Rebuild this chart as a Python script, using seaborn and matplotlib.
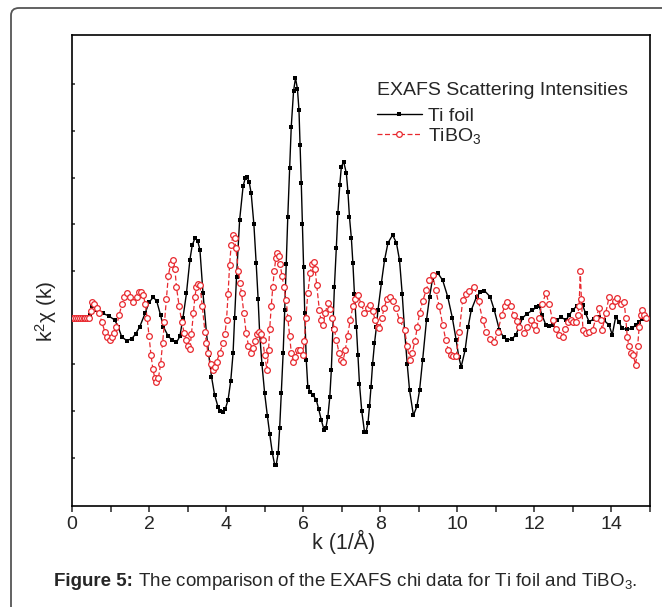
"""
EXAFS chi(k) - porownanie Ti foil i TiBO3
"""

import matplotlib
matplotlib.use('Agg')
import matplotlib.pyplot as plt
import seaborn as sns
import pandas as pd
from matplotlib.patches import FancyBboxPatch

# k (1/A) i k^2 chi(k) (jednostki = odstep tickow osi Y)
ti_k = [0.0, 0.1, 0.2, 0.3, 0.4, 0.47, 0.53, 0.65, 0.81, 0.95, 1.11, 1.20, 1.29, 1.42, 1.55,
        1.65, 1.76, 1.90, 2.00, 2.11, 2.20, 2.30, 2.37, 2.50, 2.60, 2.71, 2.80, 2.88, 2.97,
        3.06, 3.12, 3.19, 3.26, 3.32, 3.40, 3.49, 3.55, 3.62, 3.70, 3.79, 3.85, 3.92, 3.98,
        4.05, 4.12, 4.18, 4.22, 4.27, 4.35, 4.44, 4.50, 4.55, 4.60, 4.65, 4.72, 4.78, 4.83,
        4.87, 4.93, 5.00, 5.07, 5.13, 5.20, 5.26, 5.30, 5.35, 5.39, 5.43, 5.48, 5.52, 5.56,
        5.60, 5.65, 5.69, 5.75, 5.80, 5.85, 5.89, 5.92, 5.95, 5.98, 6.01, 6.04, 6.08, 6.12,
        6.18, 6.25, 6.34, 6.40, 6.47, 6.54, 6.59, 6.64, 6.69, 6.73, 6.77, 6.81, 6.86, 6.90,
        6.95, 6.99, 7.05, 7.12, 7.16, 7.20, 7.25, 7.29, 7.33, 7.38, 7.42, 7.46, 7.52, 7.59,
        7.63, 7.68, 7.72, 7.76, 7.80, 7.85, 7.90, 7.94, 8.03, 8.11, 8.20, 8.32, 8.42, 8.50,
        8.57, 8.63, 8.70, 8.76, 8.86, 8.95, 9.02, 9.10, 9.20, 9.28, 9.35, 9.49, 9.62, 9.75,
        9.87, 9.97, 10.04, 10.10, 10.20, 10.28, 10.36, 10.50, 10.60, 10.70, 10.85, 10.96,
        11.09, 11.20, 11.30, 11.42, 11.52, 11.60, 11.69, 11.80, 11.95, 12.05, 12.12, 12.20,
        12.30, 12.38, 12.47, 12.58, 12.69, 12.82, 12.90, 12.99, 13.10, 13.25, 13.33, 13.42,
        13.55, 13.68, 13.80, 13.94, 14.02, 14.11, 14.20, 14.28, 14.40, 14.54, 14.63, 14.72,
        14.80, 14.89]
ti_chi = [0.0, 0.0, 0.0, 0.0, 0.0, 0.05, 0.24, 0.17, 0.09, 0.04, -0.05, -0.20, -0.41, -0.49, -0.45,
          -0.35, -0.19, 0.10, 0.33, 0.44, 0.35, 0.05, -0.19, -0.40, -0.48, -0.53, -0.40, 0.00, 0.52,
          1.24, 1.55, 1.70, 1.65, 1.45, 0.52, -0.33, -0.80, -1.26, -1.65, -1.91, -2.00, -2.01, -1.95,
          -1.76, -1.35, -0.76, 0.00, 0.88, 2.09, 2.81, 3.00, 3.01, 2.90, 2.66, 2.00, 1.16, 0.40,
          -0.33, -1.00, -1.62, -2.10, -2.48, -2.90, -3.15, -3.15, -2.90, -2.35, -1.62, -0.75, 0.16, 1.15,
          2.16, 3.20, 4.09, 4.85, 5.13, 4.90, 4.45, 3.70, 2.88, 2.00, 1.09, 0.10, -0.91, -1.48,
          -1.58, -1.65, -1.76, -1.95, -2.19, -2.40, -2.35, -2.12, -1.70, -1.12, -0.25, 0.66, 1.50, 2.24,
          2.85, 3.23, 3.34, 3.09, 2.70, 2.16, 1.70, 1.16, 0.50, -0.19, -0.80, -1.41, -2.00, -2.44,
          -2.45, -2.26, -1.90, -1.48, -1.00, -0.55, -0.20, 0.16, 0.75, 1.23, 1.60, 1.77, 1.60, 1.23,
          0.50, -0.26, -1.00, -1.55, -2.09, -1.90, -1.55, -0.90, -0.05, 0.45, 0.80, 0.96, 0.80, 0.45,
          0.00, -0.48, -0.85, -1.05, -0.70, -0.20, 0.16, 0.45, 0.55, 0.58, 0.45, 0.16,
          -0.26, -0.42, -0.48, -0.45, -0.37, -0.20, -0.01, 0.08, 0.16, 0.22, 0.25, 0.05,
          -0.16, -0.18, -0.16, -0.05, 0.01, -0.05, 0.05, 0.16, 0.25, 0.27, 0.09, -0.09,
          -0.02, 0.02, -0.05, -0.16, -0.37, 0.02, -0.10, -0.23, -0.25, -0.23, -0.15, -0.09,
          -0.02, 0.01]

tibo_k = [0.0, 0.05, 0.1, 0.15, 0.2, 0.25, 0.3, 0.35, 0.4, 0.45, 0.49, 0.53, 0.58, 0.64, 0.70,
          0.78, 0.85, 0.91, 0.98, 1.05, 1.10, 1.15, 1.22, 1.30, 1.36, 1.42, 1.50, 1.59, 1.68,
          1.75, 1.80, 1.85, 1.90, 1.95, 2.00, 2.05, 2.10, 2.15, 2.19, 2.24, 2.30, 2.35, 2.40,
          2.45, 2.50, 2.56, 2.62, 2.67, 2.71, 2.78, 2.85, 2.91, 2.97, 3.02, 3.06, 3.10, 3.15,
          3.19, 3.23, 3.28, 3.32, 3.38, 3.45, 3.49, 3.53, 3.60, 3.66, 3.71, 3.75, 3.83, 3.92,
          3.97, 4.01, 4.05, 4.09, 4.13, 4.18, 4.22, 4.25, 4.32, 4.36, 4.40, 4.46, 4.52, 4.58,
          4.65, 4.70, 4.75, 4.80, 4.86, 4.90, 4.95, 5.00, 5.06, 5.10, 5.13, 5.17, 5.21, 5.25,
          5.29, 5.32, 5.36, 5.40, 5.45, 5.50, 5.56, 5.60, 5.65, 5.69, 5.73, 5.79, 5.86, 5.92,
          5.99, 6.03, 6.07, 6.12, 6.18, 6.23, 6.27, 6.31, 6.35, 6.42, 6.46, 6.51, 6.57, 6.64,
          6.70, 6.75, 6.81, 6.86, 6.93, 6.98, 7.03, 7.09, 7.15, 7.22, 7.29, 7.35, 7.42, 7.50,
          7.59, 7.67, 7.74, 7.80, 7.87, 7.94, 7.98, 8.04, 8.10, 8.17, 8.24, 8.32, 8.40, 8.50,
          8.63, 8.70, 8.76, 8.83, 8.90, 8.96, 9.02, 9.10, 9.19, 9.27, 9.36, 9.44, 9.53, 9.62,
          9.70, 9.77, 9.84, 9.90, 9.97, 10.05, 10.14, 10.22, 10.30, 10.44, 10.55, 10.66, 10.75,
          10.85, 10.96, 11.05, 11.15, 11.23, 11.30, 11.38, 11.47, 11.54, 11.61, 11.74, 11.82,
          11.91, 11.98, 12.04, 12.12, 12.20, 12.30, 12.38, 12.47, 12.55, 12.65, 12.73, 12.80,
          12.87, 12.94, 13.00, 13.07, 13.12, 13.16, 13.19, 13.22, 13.26, 13.33, 13.42, 13.51,
          13.60, 13.68, 13.72, 13.76, 13.85, 13.94, 14.02, 14.08, 14.15, 14.24, 14.33, 14.37,
          14.41, 14.45, 14.50, 14.56, 14.63, 14.68, 14.72, 14.76, 14.80, 14.85, 14.89]
tibo_chi = [0.0, 0.0, 0.0, 0.0, 0.0, 0.0, 0.0, 0.0, 0.0, 0.0, 0.15, 0.34, 0.30, 0.20, 0.10,
            -0.10, -0.30, -0.42, -0.48, -0.42, -0.32, -0.20, 0.05, 0.30, 0.45, 0.52, 0.45, 0.34, 0.45,
            0.55, 0.56, 0.48, 0.30, 0.00, -0.40, -0.80, -1.10, -1.30, -1.37, -1.30, -1.00, -0.55, -0.10,
            0.40, 0.90, 1.15, 1.24, 1.05, 0.66, 0.25, -0.10, -0.32, -0.48, -0.60, -0.66, -0.35, 0.10,
            0.45, 0.66, 0.72, 0.70, 0.25, -0.30, -0.55, -0.76, -1.00, -1.12, -1.05, -0.95, -0.76, -0.55,
            -0.35, -0.05, 0.50, 1.13, 1.55, 1.77, 1.70, 1.50, 1.00, 0.75, 0.52, 0.10, -0.33, -0.60,
            -0.76, -0.65, -0.50, -0.35, -0.30, -0.35, -0.48, -0.80, -1.12, -0.70, -0.25, 0.24, 0.65, 1.00,
            1.28, 1.38, 1.32, 1.15, 0.90, 0.65, 0.38, 0.00, -0.40, -0.75, -0.94, -0.85, -0.69, -0.70,
            -0.80, -0.50, 0.00, 0.52, 0.95, 1.15, 1.20, 1.05, 0.70, 0.16, -0.05, -0.16, 0.10, 0.31,
            0.18, 0.00, -0.25, -0.48, -0.75, -0.90, -0.94, -0.70, -0.40, -0.05, 0.24, 0.40, 0.49, 0.30,
            0.09, 0.20, 0.27, 0.15, -0.05, -0.19, -0.23, 0.00, 0.20, 0.40, 0.45, 0.35, 0.20, -0.05,
            -0.26, -0.60, -0.91, -0.75, -0.50, -0.20, 0.09, 0.35, 0.59, 0.80, 0.91, 0.60, 0.24, -0.15,
            -0.48, -0.70, -0.80, -0.83, -0.83, -0.30, 0.38, 0.50, 0.58, 0.66, 0.35, -0.05, -0.30,
            -0.45, -0.51, -0.30, 0.05, 0.25, 0.34, 0.25, 0.05, -0.08, -0.19, -0.33, -0.20,
            -0.05, -0.15, -0.26, 0.00, 0.30, 0.52, 0.30, -0.05, -0.25, -0.38, -0.41, -0.25,
            -0.10, -0.05, -0.10, -0.09, 0.05, 0.24, 0.99, 0.40, -0.26, -0.33, -0.30, -0.26,
            0.00, 0.20, -0.05, -0.26, 0.10, 0.45, 0.24, 0.35, 0.42, 0.30, 0.34, 0.00,
            -0.41, -0.60, -0.76, -0.80, -1.01, -0.60, -0.19, 0.05, 0.16, 0.05, -0.01]

series_names = ['Ti foil', 'TiBO$_3$']
legend_title = 'EXAFS Scattering Intensities'
x_ticks = [0, 2, 4, 6, 8, 10, 12, 14]
caption_bold = 'Figure 5:'
caption_rest = ' The comparison of the EXAFS chi data for Ti foil and TiBO$_3$.'

sns.set_style('ticks')
plt.rcParams['font.family'] = ['Liberation Sans', 'DejaVu Sans']
plt.rcParams['mathtext.fontset'] = 'custom'
plt.rcParams['mathtext.rm'] = 'Liberation Sans'
plt.rcParams['mathtext.it'] = 'Liberation Sans:italic'
plt.rcParams['mathtext.bf'] = 'Liberation Sans:bold'

fig = plt.figure(figsize=(6.62, 6.07), dpi=100)
ax = fig.add_axes([72 / 662, 1 - 506 / 607, 578 / 662, 471 / 607])

df_ti = pd.DataFrame({'k': ti_k, 'chi': ti_chi})
df_tibo = pd.DataFrame({'k': tibo_k, 'chi': tibo_chi})

red = '#e8282e'
sns.lineplot(data=df_ti, x='k', y='chi', ax=ax, color='black', lw=1.0,
             marker='s', markersize=3.3, markeredgewidth=0, label=series_names[0],
             sort=False, estimator=None, zorder=3)
sns.lineplot(data=df_tibo, x='k', y='chi', ax=ax, color=red, lw=0.9,
             linestyle=(0, (4, 2)), marker='o', markersize=4.1, markerfacecolor='white',
             markeredgecolor=red, markeredgewidth=0.9, label=series_names[1],
             sort=False, estimator=None, zorder=4)

ax.set_xlim(0, 15)
ax.set_ylim(-4.03, 6.05)
ax.set_xticks(x_ticks)
ax.set_xticks(range(1, 16, 2), minor=True)
ax.set_yticks(range(-3, 6))
ax.set_yticklabels([])
ax.tick_params(axis='x', which='both', direction='out', length=4, width=1.1,
               labelsize=14, pad=3)
ax.tick_params(axis='y', which='both', direction='in', length=2.5, width=1.1, left=True)
for sp in ax.spines.values():
    sp.set_linewidth(1.2)
    sp.set_color('black')

ax.set_xlabel('k (1/Å)', fontsize=15.5)
ax.xaxis.set_label_coords(0.47, -0.05)
ax.set_ylabel('k$^2$χ (k)', fontsize=15)
ax.yaxis.set_label_coords(-0.022, 0.414)

leg = ax.legend(title=legend_title, frameon=False, loc='upper left',
                bbox_to_anchor=(377 / 662, 1 - 82 / 607), bbox_transform=fig.transFigure,
                fontsize=14, title_fontsize=14, handlelength=2.3, handletextpad=0.3,
                labelspacing=0.05, borderpad=0, borderaxespad=0, alignment='left')
leg._legend_box.sep = 6  # wiekszy odstep tytul -> wpisy

# ramka wokol calej figury (zaokraglony rog)
frame = FancyBboxPatch((11 / 662, -0.05), 1.2, 1 - 8 / 607 + 0.05,
                       boxstyle='round,pad=0,rounding_size=0.012',
                       transform=fig.transFigure, fill=False,
                       edgecolor='#555555', lw=1.3, zorder=0)
fig.patches.append(frame)

# podpis: pogrubiona czesc + reszta zwykla
renderer = fig.canvas.get_renderer()
cap_y = 1 - 581 / 607
t1 = fig.text(54 / 662, cap_y, caption_bold, ha='left', va='center',
              fontsize=13.5, fontweight='bold')
bb = t1.get_window_extent(renderer)
fig.text(bb.x1 / fig.bbox.width, cap_y, caption_rest, ha='left', va='center',
         fontsize=13.5)

fig.savefig('out.png', dpi=100)
